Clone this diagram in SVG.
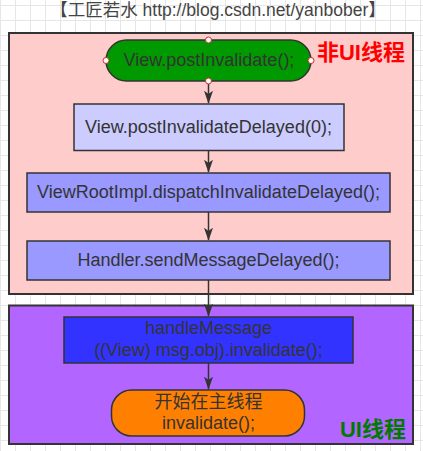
<svg xmlns="http://www.w3.org/2000/svg" width="423" height="451" viewBox="0 0 423 451">
<defs>
<pattern id="grid" x="0" y="5" width="15" height="15" patternUnits="userSpaceOnUse">
<path d="M0.5 0V15M0 0.5H15" fill="none" stroke="#e6e6e6" stroke-width="1"/>
</pattern>
<marker id="arr" viewBox="0 0 10 10" refX="9.5" refY="5" markerWidth="13" markerHeight="9" markerUnits="userSpaceOnUse" orient="auto" preserveAspectRatio="none">
<path d="M0 0L10 5L0 10L2.5 5Z" fill="#333"/>
</marker>
</defs>
<style>
.t{font-family:"Liberation Sans",Arial,"Noto Sans CJK SC",sans-serif;font-size:18px;fill:#333;text-anchor:middle}
.n{stroke:#333;stroke-width:1.5}
.c{stroke:#333;stroke-width:1.5;fill:none}
.h{fill:#fff;stroke:#c03030;stroke-width:1}
.lb{font-family:"Liberation Sans",Arial,"Noto Sans CJK SC",sans-serif;font-size:22px;font-weight:bold;text-anchor:middle}
</style>
<rect width="423" height="451" fill="#fff"/>
<rect x="0" y="0" width="423" height="451" fill="url(#grid)"/>
<text x="218" y="16" class="t" style="font-size:17.5px;fill:#444">【工匠若水 http://blog.csdn.net/yanbober】</text>
<g id="nonui">
<rect x="9" y="33" width="404" height="261" fill="#ffcccc" stroke="#333" stroke-width="2"/>
<text x="361" y="60" class="lb" fill="#ff0000">非UI线程</text>
</g>
<g id="ui">
<rect x="9" y="305.5" width="404" height="138.5" fill="#b266ff" stroke="#333" stroke-width="2"/>
<text x="373" y="437" class="lb" fill="#007a00">UI线程</text>
</g>
<g id="n1">
<rect x="106" y="40" width="205" height="41" rx="20.5" fill="#009900" class="n"/>
<text x="209" y="66" class="t">View.postInvalidate();</text>
<circle cx="208.5" cy="40" r="3" class="h"/>
<circle cx="106" cy="60.5" r="3" class="h"/>
<circle cx="311" cy="60.5" r="3" class="h"/>
<circle cx="208.5" cy="81" r="3" class="h"/>
</g>
<g id="n2">
<rect x="74" y="104" width="270" height="46.5" fill="#ccccff" class="n"/>
<text x="208.5" y="132.5" class="t">View.postInvalidateDelayed(0);</text>
</g>
<g id="n3">
<rect x="27" y="173" width="363" height="39" fill="#9999ff" class="n"/>
<text x="208.5" y="198" class="t">ViewRootImpl.dispatchInvalidateDelayed();</text>
</g>
<g id="n4">
<rect x="27" y="241" width="363" height="39" fill="#9999ff" class="n"/>
<text x="208.5" y="266" class="t">Handler.sendMessageDelayed();</text>
</g>
<g id="n5">
<rect x="64" y="317" width="289" height="46" fill="#3333ff" class="n"/>
<text x="208.5" y="334" class="t">handleMessage</text>
<text x="208.5" y="356" class="t">((View) msg.obj).invalidate();</text>
</g>
<g id="n6">
<rect x="111.5" y="390" width="193" height="46" rx="20" fill="#ff8000" class="n"/>
<text x="208.5" y="408" class="t">开始在主线程</text>
<text x="208.5" y="429" class="t">invalidate();</text>
</g>
<g id="connectors">
<line x1="208.5" y1="84" x2="208.5" y2="103" class="c" marker-end="url(#arr)"/>
<line x1="208.5" y1="150.5" x2="208.5" y2="172" class="c" marker-end="url(#arr)"/>
<line x1="208.5" y1="212" x2="208.5" y2="240" class="c" marker-end="url(#arr)"/>
<line x1="208.5" y1="280" x2="208.5" y2="316" class="c" marker-end="url(#arr)"/>
<line x1="208.5" y1="363" x2="208.5" y2="389" class="c" marker-end="url(#arr)"/>
</g>
</svg>
